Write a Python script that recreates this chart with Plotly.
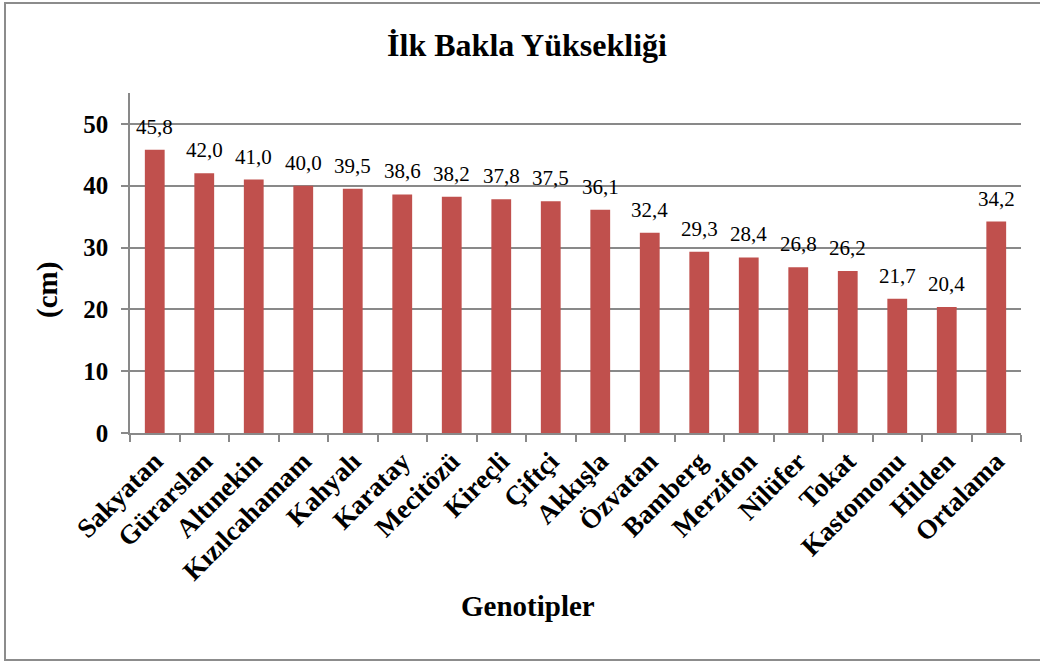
import plotly.graph_objects as go

categories = ["Sakyatan", "Gürarslan", "Altınekin", "Kızılcahamam", "Kahyalı", "Karatay",
              "Mecitözü", "Kireçli", "Çiftçi", "Akkışla", "Özvatan", "Bamberg", "Merzifon",
              "Nilüfer", "Tokat", "Kastomonu", "Hilden", "Ortalama"]
values = [45.8, 42.0, 41.0, 40.0, 39.5, 38.6, 38.2, 37.8, 37.5, 36.1, 32.4, 29.3, 28.4,
          26.8, 26.2, 21.7, 20.4, 34.2]
y_ticks = [0, 10, 20, 30, 40, 50]

W, H = 1040, 663
L, R, T, B = 130, 19, 93, 230
pw, ph = W - L - R, H - T - B

def px(x):
    return (x - L) / pw

def py(y):
    return (H - B - y) / ph

FONT = "Liberation Serif, Times New Roman, serif"
GRID = "#898989"

fig = go.Figure(go.Bar(
    x=categories, y=values,
    marker=dict(color="#C0504D", line=dict(width=0)),
    hoverinfo="x+y",
))

value_labels = [
    dict(x=c, y=v, xref="x", yref="y", text=f"{v:.1f}".replace(".", ","),
         showarrow=False, xanchor="center", yanchor="bottom", yshift=9,
         font=dict(family=FONT, size=21, color="black"))
    for c, v in zip(categories, values)
]

fig.update_layout(
    width=W, height=H,
    margin=dict(l=L, r=R, t=T, b=B, autoexpand=False),
    paper_bgcolor="white", plot_bgcolor="white",
    bargap=0.6,
    showlegend=False,
    font=dict(family=FONT, color="black"),
    title=dict(text="<b>İlk Bakla Yüksekliği</b>", x=527 / W, y=1 - 45 / H,
               xanchor="center", yanchor="middle",
               font=dict(family=FONT, size=32, color="black")),
    xaxis=dict(
        type="category", tickson="boundaries", ticks="outside", ticklen=7,
        tickcolor=GRID, tickwidth=1.5, automargin=False,
        showline=True, linecolor=GRID, linewidth=1.5,
        tickangle=-45, tickfont=dict(family=FONT, size=27, color="black", weight="bold"),
        showgrid=False,
    ),
    yaxis=dict(
        range=[0, 55], tickvals=y_ticks, ticks="outside", ticklen=7,
        tickcolor=GRID, tickwidth=1.5, automargin=False,
        showline=True, linecolor=GRID, linewidth=1.5,
        showgrid=True, gridcolor=GRID, gridwidth=1.5,
        zeroline=False,
        tickfont=dict(family=FONT, size=25, color="black", weight="bold"),
        ticklabelstandoff=8,
    ),
    annotations=value_labels + [
        dict(text="<b>(cm)</b>", x=px(47), y=py(290), xref="paper", yref="paper",
             textangle=-90, showarrow=False, xanchor="center", yanchor="middle",
             font=dict(family=FONT, size=29, color="black")),
        dict(text="<b>Genotipler</b>", x=px(528), y=py(606), xref="paper", yref="paper",
             showarrow=False, xanchor="center", yanchor="middle",
             font=dict(family=FONT, size=29, color="black")),
    ],
    shapes=[
        dict(type="rect", xref="paper", yref="paper",
             x0=px(5), x1=px(1046), y0=py(660), y1=py(3),
             line=dict(color="#8C8C8C", width=2), fillcolor="rgba(0,0,0,0)", layer="below"),
    ],
)

fig.write_html("out.html", config={"displayModeBar": False},
               post_script="document.body.style.margin='0';document.body.style.overflow='hidden';")
